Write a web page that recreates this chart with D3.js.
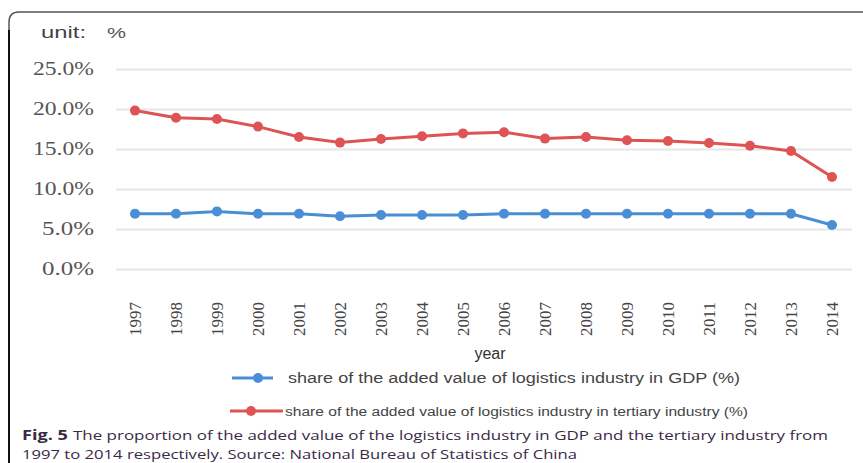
<!DOCTYPE html>
<html>
<head>
<meta charset="utf-8">
<script src="https://cdn.jsdelivr.net/npm/d3@7"></script>
<style>
  body { margin: 0; background: #fff; }
  svg { display: block; }
</style>
</head>
<body>
<div id="chart"></div>
<script>
// data
var years = [1997, 1998, 1999, 2000, 2001, 2002, 2003, 2004, 2005, 2006, 2007, 2008, 2009, 2010, 2011, 2012, 2013, 2014];
var gdpShare = [6.9, 6.9, 7.2, 6.9, 6.9, 6.6, 6.75, 6.75, 6.75, 6.9, 6.9, 6.9, 6.9, 6.9, 6.9, 6.9, 6.9, 5.5];
var tertiaryShare = [19.8, 18.9, 18.75, 17.8, 16.5, 15.8, 16.25, 16.6, 16.95, 17.1, 16.3, 16.5, 16.1, 16.0, 15.75, 15.4, 14.75, 11.5];
var yTicks = [0, 5, 10, 15, 20, 25];
var gdpLabel = "share of the added value of logistics industry in GDP (%)";
var tertiaryLabel = "share of the added value of logistics industry in tertiary industry (%)";

var W = 863, H = 463;
var blue = "#4a8ed6", red = "#de5454";

var svg = d3.select("#chart").append("svg")
  .attr("width", W)
  .attr("height", H);

// frame (left + top border with rounded corner)
svg.append("path")
  .attr("d", "M9,463 L9,22 Q9,12 19,12 L863,12")
  .attr("fill", "none")
  .attr("stroke", "#555")
  .attr("stroke-width", 1.5);
svg.append("line")
  .attr("x1", 9).attr("x2", 9).attr("y1", 30).attr("y2", 463)
  .attr("stroke", "#111").attr("stroke-width", 2);

// scales
var x = d3.scalePoint()
  .domain(years)
  .range([135, 832]);

var y = d3.scaleLinear()
  .domain([0, 25])
  .range([269, 69]);

// gridlines
svg.append("g")
  .attr("transform", "translate(116,0)")
  .call(d3.axisLeft(y).tickValues(yTicks).tickSize(-736).tickFormat(""))
  .call(function (g) { g.select(".domain").remove(); })
  .selectAll("line")
  .attr("stroke", "#e6e6e6")
  .attr("stroke-width", 2);

// y labels
svg.append("g")
  .selectAll("text")
  .data(yTicks)
  .enter()
  .append("text")
  .attr("x", 94)
  .attr("y", function (d) { return y(d) + 6; })
  .attr("text-anchor", "end")
  .attr("textLength", function (d) { return d < 10 ? 52 : 61; })
  .attr("lengthAdjust", "spacingAndGlyphs")
  .style("font-family", "'Liberation Serif', 'Times New Roman', serif")
  .style("font-size", "18px")
  .style("fill", "#555")
  .text(function (d) { return d.toFixed(1) + "%"; });

// x labels (rotated)
svg.append("g")
  .selectAll("text")
  .data(years)
  .enter()
  .append("text")
  .attr("transform", function (d) { return "translate(" + (x(d) + 6) + ",302) rotate(-90)"; })
  .attr("text-anchor", "end")
  .style("font-family", "'Liberation Serif', 'Times New Roman', serif")
  .style("font-size", "17px")
  .style("fill", "#444")
  .text(function (d) { return d; });

// unit label
svg.append("text")
  .attr("x", 41).attr("y", 38)
  .attr("textLength", 45)
  .attr("lengthAdjust", "spacingAndGlyphs")
  .style("font-family", "'Liberation Sans', Arial, sans-serif")
  .style("font-size", "17px")
  .style("fill", "#444")
  .text("unit:");
svg.append("text")
  .attr("x", 107).attr("y", 38)
  .attr("textLength", 19)
  .attr("lengthAdjust", "spacingAndGlyphs")
  .style("font-family", "'Liberation Sans', Arial, sans-serif")
  .style("font-size", "15px")
  .style("fill", "#555")
  .text("%");

// axis title
svg.append("text")
  .attr("x", 490).attr("y", 359)
  .attr("text-anchor", "middle")
  .style("font-family", "'Liberation Sans', Arial, sans-serif")
  .style("font-size", "16px")
  .style("fill", "#333")
  .text("year");

var line = d3.line()
  .x(function (d, i) { return x(years[i]); })
  .y(function (d) { return y(d); });

function drawSeries(values, color) {
  svg.append("path")
    .datum(values)
    .attr("fill", "none")
    .attr("stroke", color)
    .attr("stroke-width", 3)
    .attr("d", line);
  svg.append("g")
    .selectAll("circle")
    .data(values)
    .enter()
    .append("circle")
    .attr("cx", function (d, i) { return x(years[i]); })
    .attr("cy", function (d) { return y(d); })
    .attr("r", 5)
    .attr("fill", color);
}
drawSeries(tertiaryShare, red);
drawSeries(gdpShare, blue);

// legend
function legendItem(x1, x2, mx, ly, color, label, tx, fs, tlen) {
  svg.append("line")
    .attr("x1", x1).attr("x2", x2).attr("y1", ly).attr("y2", ly)
    .attr("stroke", color).attr("stroke-width", 3);
  svg.append("circle")
    .attr("cx", mx).attr("cy", ly).attr("r", 5).attr("fill", color);
  svg.append("text")
    .attr("x", tx).attr("y", ly + 5)
    .attr("textLength", tlen)
    .attr("lengthAdjust", "spacingAndGlyphs")
    .style("font-family", "'Liberation Sans', Arial, sans-serif")
    .style("font-size", fs + "px")
    .style("fill", "#444")
    .text(label);
}
legendItem(232, 273, 258, 378, blue, gdpLabel, 288, 14, 452);
legendItem(230, 283, 251, 411, red, tertiaryLabel, 285, 12, 463);

// caption
function capText(tx, ty, txt, len, bold) {
  svg.append("text")
    .attr("x", tx).attr("y", ty)
    .attr("textLength", len)
    .attr("lengthAdjust", "spacingAndGlyphs")
    .style("font-family", "'Open Sans', sans-serif")
    .style("font-size", "13.5px")
    .style("font-weight", bold ? "bold" : "normal")
    .style("fill", "#3a2a45")
    .text(txt);
}
capText(22, 440, "Fig. 5", 46, true);
capText(73, 440, "The proportion of the added value of the logistics industry in GDP and the tertiary industry from", 755, false);
capText(22, 459, "1997 to 2014 respectively. Source: National Bureau of Statistics of China", 555, false);
</script>
</body>
</html>
